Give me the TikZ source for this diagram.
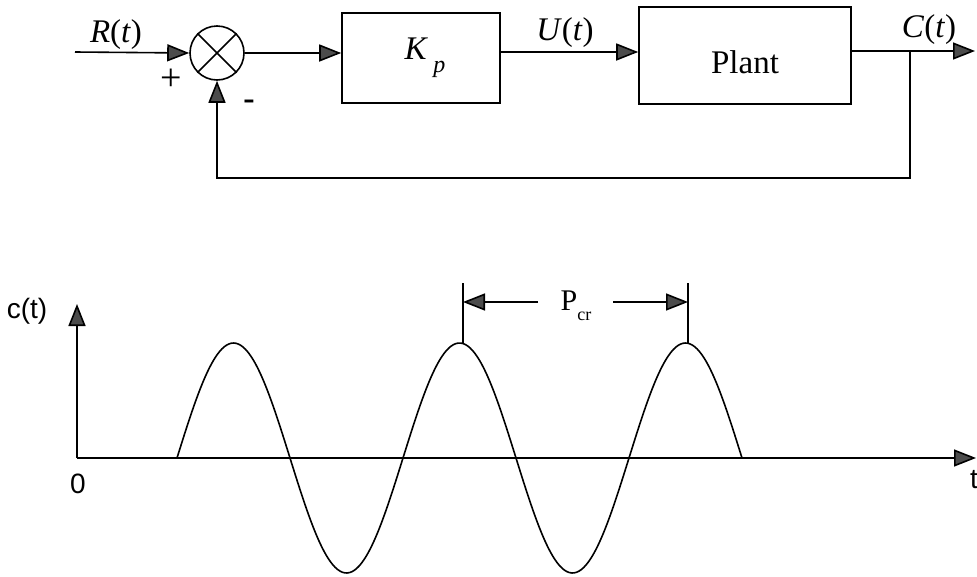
\documentclass[tikz,border=0pt]{standalone}
\usepackage{fontspec}
\setmainfont{Liberation Serif}
\setsansfont{Liberation Sans}
\usetikzlibrary{arrows.meta}
\definecolor{arrowgray}{gray}{0.3}
\begin{document}
\begin{tikzpicture}[x=1pt,y=-1pt,
  line width=1.6pt,
  tip/.style={-{Triangle[length=22pt,width=17pt,fill=arrowgray]}},
  blockbox/.style={draw,rectangle,inner sep=0pt},
  sumnode/.style={draw,circle,minimum size=54pt,inner sep=0pt},
  lbl/.style={inner sep=0pt,font=\fontsize{33}{33}\selectfont},
  slbl/.style={inner sep=0pt,font=\sffamily\fontsize{28}{28}\selectfont},
  curve/.style={line width=1.6pt}]
\useasboundingbox (0,0) rectangle (977,576);
% ---- block diagram ----
\coordinate (in) at (75,52);
\node[sumnode] (sum) at (217,53) {};
\draw (sum.north east) -- (sum.south west);
\draw (sum.north west) -- (sum.south east);
\node[blockbox,minimum width=158pt,minimum height=90pt] (kp) at (421,58) {};
\node[lbl] (kplbl) at (425,58) {\textit{K}\,\raisebox{-0.4em}{\fontsize{24}{24}\selectfont\textit{p}}};
\node[blockbox,minimum width=212pt,minimum height=97pt] (plant) at (745,55.5) {};
\node[lbl] (plantlbl) at (745,62) {Plant};
\coordinate (kpin) at (kp.west |- 0,53);
\coordinate (kpout) at (kp.east |- 0,52);
\coordinate (plin) at (plant.west |- 0,52);
\coordinate (plout) at (plant.east |- 0,51);
\coordinate (branch) at (910,51);
\coordinate (out) at (975,51);
\coordinate (fb1) at (910,178);
\coordinate (fb2) at (217,178);
\draw[tip] (in) -- (sum.west);
\draw[tip] (sum.east) -- (kpin);
\draw[tip] (kpout) -- (plin);
\draw[tip] (plout) -- (out);
\draw[tip] (branch) -- (fb1) -- (fb2) -- (sum.south);
\node[lbl] (rlbl) at (116,35) {\textit{R}(\textit{t})};
\node[lbl] (ulbl) at (565,33) {\textit{U}(\textit{t})};
\node[lbl] (clbl) at (929,30) {\textit{C}(\textit{t})};
\node[inner sep=0pt,font=\fontsize{38}{38}\selectfont] (plus) at (171,80) {+};
\node[inner sep=0pt,font=\bfseries\fontsize{34}{34}\selectfont] (minus) at (249,105) {-};
% ---- time response ----
\coordinate (O) at (77,458);
\coordinate (yend) at (77,304);
\coordinate (xend) at (976,458);
\draw[tip] (O) -- (yend);
\draw[tip] (O) -- (xend);
\node[slbl] (ct) at (27,311) {c(t)};
\node[slbl] (zero) at (78,484) {0};
\node[slbl] (tl) at (974,480) {t};
\draw[curve] plot[domain=177:742,samples=240,smooth] (\x,{458-115*sin(1.59292*(\x-177))});
\coordinate (pk1) at (463,343);
\coordinate (pk2) at (688,343);
\coordinate (t1) at (463,283);
\coordinate (t2) at (688,283);
\draw (pk1) -- (t1);
\draw (pk2) -- (t2);
\coordinate (a1) at (463,302);
\coordinate (a2) at (688,302);
\coordinate (s1) at (538,302);
\coordinate (s2) at (613,302);
\draw[tip] (s1) -- (a1);
\draw[tip] (s2) -- (a2);
\node[inner sep=0pt,font=\fontsize{30}{30}\selectfont] (pcr) at (576,306) {P\raisebox{-0.35em}{\fontsize{18}{18}\selectfont cr}};
\end{tikzpicture}
\end{document}
